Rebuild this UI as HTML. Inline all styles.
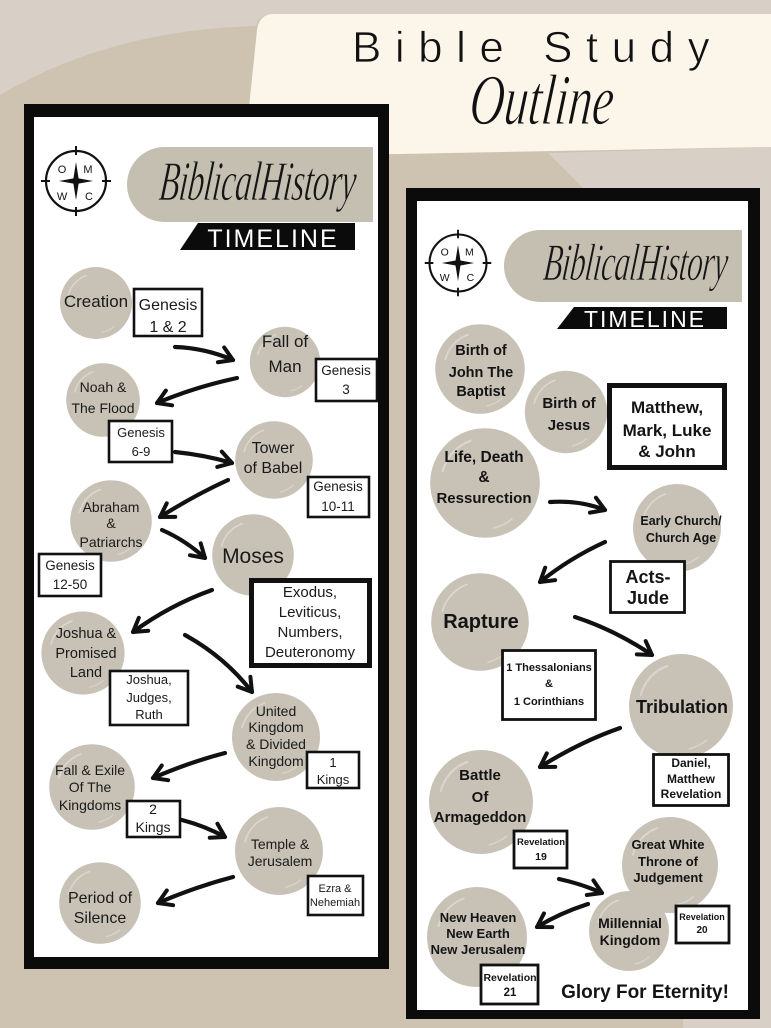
<!DOCTYPE html>
<html><head><meta charset="utf-8"><style>
html,body{margin:0;padding:0;background:#cec3b0;}
svg{display:block;}
</style></head><body>
<svg width="771" height="1028" viewBox="0 0 771 1028" xmlns="http://www.w3.org/2000/svg">
<defs>
<marker id="ah" markerUnits="userSpaceOnUse" markerWidth="34" markerHeight="34" viewBox="-17 -17 34 34" refX="0" refY="0" orient="auto">
<path d="M-13,-8 L0,0 L-13,8" fill="none" stroke="#111" stroke-width="4" stroke-linecap="round" stroke-linejoin="round"/>
</marker>
<g id="blob">
<circle r="40" fill="#c8c2b6"/>
<path d="M-31,-8 A32,32 0 0 1 -10,-31" fill="none" stroke="#fff" stroke-opacity=".35" stroke-width="1.5"/>
<path d="M20,26 A32,32 0 0 1 6,33" fill="none" stroke="#fff" stroke-opacity=".3" stroke-width="1.2"/>
</g>
<g id="compass">
<circle r="30" fill="#fff" stroke="#111" stroke-width="2.2"/>
<path d="M0,-35 V-26 M0,26 V35 M-35,0 H-26 M26,0 H35" stroke="#111" stroke-width="2"/>
<path d="M0,-19 L2.6,-2.6 L17,0 L2.6,2.6 L0,19 L-2.6,2.6 L-17,0 L-2.6,-2.6 Z" fill="#111"/>
<g font-family="Liberation Sans, sans-serif" font-size="11" fill="#111" text-anchor="middle">
<text x="-14" y="-8">O</text><text x="12" y="-8">M</text><text x="-14" y="19">W</text><text x="13" y="19">C</text>
</g>
</g>
</defs>

<!-- background -->
<rect width="771" height="1028" fill="#cec3b0"/>
<path d="M0,0 H771 V15 H268 Q258,16 256,26 Q110,30 0,95 Z" fill="#d8cfc6"/>
<path d="M548,153 L771,147 V1028 H683 V700 L600,205 Z" fill="#d8cfc6"/>
<path d="M272,14 H771 V147 Q600,150 400,154 L244,156 L257,30 Q259,15 272,14 Z" fill="#fbf5ea"/>

<text x="352" y="62" font-family="Liberation Sans, sans-serif" font-size="44" letter-spacing="13.5" fill="#111" stroke="#fbf5ea" stroke-width="0.8">Bible Study</text>
<text transform="translate(540,124) scale(1,1.5) skewX(-8)" font-family="Liberation Serif, serif" font-style="italic" font-size="48" text-anchor="middle" fill="#111" stroke="#fbf5ea" stroke-width="0.7">Outline</text>

<!-- LEFT CARD -->
<rect x="24" y="104" width="365" height="865" fill="#0b0b0b"/>
<rect x="34" y="117" width="344" height="840" fill="#fff"/>
<use href="#compass" transform="translate(76,181)"/>
<path d="M164.5,147 H373 V222 H164.5 A37.5,37.5 0 0 1 164.5,147 Z" fill="#c5bfb2"/>
<text transform="translate(256,200) scale(1,1.7) skewX(-10)" font-family="Liberation Serif, serif" font-style="italic" font-size="33" text-anchor="middle" letter-spacing="-0.5" fill="#151515" stroke="#c5bfb2" stroke-width="0.5">BiblicalHistory</text>
<polygon points="198,223 355,223 355,250 180,250" fill="#0b0b0b"/>
<text x="273" y="247" font-family="Liberation Sans, sans-serif" font-size="25" letter-spacing="2" fill="#fff" text-anchor="middle">TIMELINE</text>

<!-- left circles -->
<use href="#blob" transform="translate(96,303) scale(0.9)"/>
<use href="#blob" transform="translate(285,362) scale(0.88)"/>
<use href="#blob" transform="translate(103,400) scale(0.92)"/>
<use href="#blob" transform="translate(274,460) scale(0.97)"/>
<use href="#blob" transform="translate(111,521) scale(1.02)"/>
<use href="#blob" transform="translate(253,555) scale(1.02)"/>
<use href="#blob" transform="translate(83,653) scale(1.04)"/>
<use href="#blob" transform="translate(276,737) scale(1.1)"/>
<use href="#blob" transform="translate(92,787) scale(1.07)"/>
<use href="#blob" transform="translate(279,851) scale(1.1)"/>
<use href="#blob" transform="translate(100,903) scale(1.02)"/>

<!-- left boxes -->
<g fill="#fff" stroke="#111" stroke-width="2.6">
<rect x="134" y="289" width="68" height="47"/>
<rect x="316" y="359" width="61" height="42"/>
<rect x="109" y="421" width="63" height="41"/>
<rect x="308" y="477" width="61" height="40"/>
<rect x="39" y="554" width="62" height="42"/>
<rect x="251.5" y="580.5" width="118" height="85" stroke-width="5"/>
<rect x="110" y="671" width="78" height="54"/>
<rect x="307" y="752" width="52" height="36"/>
<rect x="127" y="801" width="53" height="36"/>
<rect x="308" y="876" width="55" height="39"/>
</g>

<!-- left arrows -->
<g fill="none" stroke="#111" stroke-width="4.2" stroke-linecap="round" marker-end="url(#ah)">
<path d="M175,347 Q205,348 233,360"/>
<path d="M237,378 Q195,387 157,403"/>
<path d="M175,452 Q205,455 232,463"/>
<path d="M228,480 Q195,495 160,517"/>
<path d="M162,530 Q185,540 205,558"/>
<path d="M212,590 Q170,605 133,632"/>
<path d="M185,635 Q225,657 252,692"/>
<path d="M225,753 Q190,762 153,778"/>
<path d="M182,820 Q205,826 225,837"/>
<path d="M233,877 Q195,887 158,903"/>
</g>

<!-- left text -->
<g font-family="Liberation Sans, sans-serif" text-anchor="middle" fill="#1a1a1a">
<text x="96" y="307" font-size="17">Creation</text>
<text x="168" y="310" font-size="16">Genesis</text><text x="168" y="332" font-size="16">1 &amp; 2</text>
<text x="285" y="347" font-size="17">Fall of</text><text x="285" y="372" font-size="17">Man</text>
<text x="346" y="375" font-size="13.5">Genesis</text><text x="346" y="394" font-size="13.5">3</text>
<text x="103" y="392" font-size="14">Noah &amp;</text><text x="103" y="413" font-size="14">The Flood</text>
<text x="141" y="437" font-size="13">Genesis</text><text x="141" y="456" font-size="13">6-9</text>
<text x="273" y="453" font-size="16">Tower</text><text x="273" y="473" font-size="16">of Babel</text>
<text x="338" y="491" font-size="13.5">Genesis</text><text x="338" y="511" font-size="13.5">10-11</text>
<text x="111" y="512" font-size="14">Abraham</text><text x="111" y="528" font-size="14">&amp;</text><text x="111" y="547" font-size="14">Patriarchs</text>
<text x="70" y="570" font-size="13.5">Genesis</text><text x="70" y="589" font-size="13.5">12-50</text>
<text x="253" y="563" font-size="21">Moses</text>
<text x="310" y="597" font-size="15">Exodus,</text><text x="310" y="617" font-size="15">Leviticus,</text><text x="310" y="637" font-size="15">Numbers,</text><text x="310" y="657" font-size="15">Deuteronomy</text>
<text x="86" y="638" font-size="14.5">Joshua &amp;</text><text x="86" y="658" font-size="14.5">Promised</text><text x="86" y="677" font-size="14.5">Land</text>
<text x="149" y="684" font-size="13">Joshua,</text><text x="149" y="702" font-size="13">Judges,</text><text x="149" y="719" font-size="13">Ruth</text>
<text x="276" y="716" font-size="14">United</text><text x="276" y="732" font-size="14">Kingdom</text><text x="276" y="749" font-size="14">&amp; Divided</text><text x="276" y="766" font-size="14">Kingdom</text>
<text x="333" y="767" font-size="13">1</text><text x="333" y="784" font-size="13">Kings</text>
<text x="90" y="775" font-size="14">Fall &amp; Exile</text><text x="90" y="792" font-size="14">Of The</text><text x="90" y="810" font-size="14">Kingdoms</text>
<text x="153" y="814" font-size="14">2</text><text x="153" y="832" font-size="14">Kings</text>
<text x="280" y="849" font-size="14">Temple &amp;</text><text x="280" y="866" font-size="14">Jerusalem</text>
<text x="335" y="892" font-size="11">Ezra &amp;</text><text x="335" y="906" font-size="11">Nehemiah</text>
<text x="100" y="903" font-size="16">Period of</text><text x="100" y="923" font-size="16">Silence</text>
</g>

<!-- RIGHT CARD -->
<rect x="406" y="188" width="354" height="831" fill="#0b0b0b"/>
<rect x="417" y="201" width="331" height="809" fill="#fff"/>
<use href="#compass" transform="translate(458,263) scale(0.95)"/>
<path d="M540,230 H742 V302 H540 A36,36 0 0 1 540,230 Z" fill="#c5bfb2"/>
<text transform="translate(634,280) scale(1,1.7) skewX(-10)" font-family="Liberation Serif, serif" font-style="italic" font-size="31" text-anchor="middle" letter-spacing="-0.5" fill="#151515" stroke="#c5bfb2" stroke-width="0.5">BiblicalHistory</text>
<polygon points="574,307 727,307 727,329 557,329" fill="#0b0b0b"/>
<text x="645" y="327" font-family="Liberation Sans, sans-serif" font-size="23" letter-spacing="2" fill="#fff" text-anchor="middle">TIMELINE</text>

<!-- right circles -->
<use href="#blob" transform="translate(480,369) scale(1.12)"/>
<use href="#blob" transform="translate(566,412) scale(1.03)"/>
<use href="#blob" transform="translate(485,483) scale(1.37)"/>
<use href="#blob" transform="translate(677,528) scale(1.1)"/>
<use href="#blob" transform="translate(480,622) scale(1.22)"/>
<use href="#blob" transform="translate(681,706) scale(1.3)"/>
<use href="#blob" transform="translate(481,802) scale(1.3)"/>
<use href="#blob" transform="translate(670,865) scale(1.2)"/>
<use href="#blob" transform="translate(629,931) scale(1.0)"/>
<use href="#blob" transform="translate(477,937) scale(1.25)"/>

<!-- right boxes -->
<g fill="#fff" stroke="#111" stroke-width="2.8">
<rect x="609.5" y="385.5" width="115" height="82" stroke-width="5"/>
<rect x="610.5" y="561.5" width="74" height="51"/>
<rect x="502.5" y="650.5" width="93" height="69"/>
<rect x="653.5" y="754.5" width="75" height="51"/>
<rect x="514" y="831" width="53" height="37"/>
<rect x="676" y="906" width="53" height="37"/>
<rect x="481" y="965" width="57" height="39"/>
</g>

<!-- right arrows -->
<g fill="none" stroke="#111" stroke-width="4.2" stroke-linecap="round" marker-end="url(#ah)">
<path d="M550,502 Q580,500 605,510"/>
<path d="M605,542 Q570,558 540,582"/>
<path d="M575,617 Q615,630 652,655"/>
<path d="M620,728 Q580,742 540,767"/>
<path d="M559,879 Q582,884 602,893"/>
<path d="M588,904 Q560,913 537,927"/>
</g>

<!-- right text -->
<g font-family="Liberation Sans, sans-serif" font-weight="bold" text-anchor="middle" fill="#141414">
<text x="481" y="355" font-size="14.5">Birth of</text><text x="481" y="377" font-size="14.5">John The</text><text x="481" y="396" font-size="14.5">Baptist</text>
<text x="569" y="408" font-size="15">Birth of</text><text x="569" y="430" font-size="15">Jesus</text>
<text x="667" y="413" font-size="17">Matthew,</text><text x="667" y="436" font-size="17">Mark, Luke</text><text x="667" y="457" font-size="17">&amp; John</text>
<text x="484" y="462" font-size="15.5">Life, Death</text><text x="484" y="482" font-size="15.5">&amp;</text><text x="484" y="503" font-size="15">Ressurection</text>
<text x="681" y="525" font-size="12.5">Early Church/</text><text x="681" y="542" font-size="12.5">Church Age</text>
<text x="648" y="583" font-size="18">Acts-</text><text x="648" y="604" font-size="18">Jude</text>
<text x="481" y="628" font-size="20">Rapture</text>
<text x="549" y="671" font-size="11">1 Thessalonians</text><text x="549" y="687" font-size="11">&amp;</text><text x="549" y="705" font-size="11">1 Corinthians</text>
<text x="682" y="713" font-size="18">Tribulation</text>
<text x="691" y="767" font-size="12">Daniel,</text><text x="691" y="783" font-size="12">Matthew</text><text x="691" y="798" font-size="12">Revelation</text>
<text x="480" y="780" font-size="15">Battle</text><text x="480" y="802" font-size="15">Of</text><text x="480" y="822" font-size="15">Armageddon</text>
<text x="541" y="845" font-size="9.5">Revelation</text><text x="541" y="860" font-size="10.5">19</text>
<text x="702" y="920" font-size="9">Revelation</text><text x="702" y="933" font-size="10">20</text>
<text x="668" y="849" font-size="13">Great White</text><text x="668" y="866" font-size="13">Throne of</text><text x="668" y="882" font-size="13">Judgement</text>
<text x="630" y="928" font-size="14">Millennial</text><text x="630" y="945" font-size="14">Kingdom</text>
<text x="478" y="922" font-size="13">New Heaven</text><text x="478" y="938" font-size="13">New Earth</text><text x="478" y="954" font-size="13">New Jerusalem</text>
<text x="510" y="981" font-size="10.5">Revelation</text><text x="510" y="996" font-size="11.5">21</text>
<text x="645" y="998" font-size="19">Glory For Eternity!</text>
</g>
</svg>
</body></html>
